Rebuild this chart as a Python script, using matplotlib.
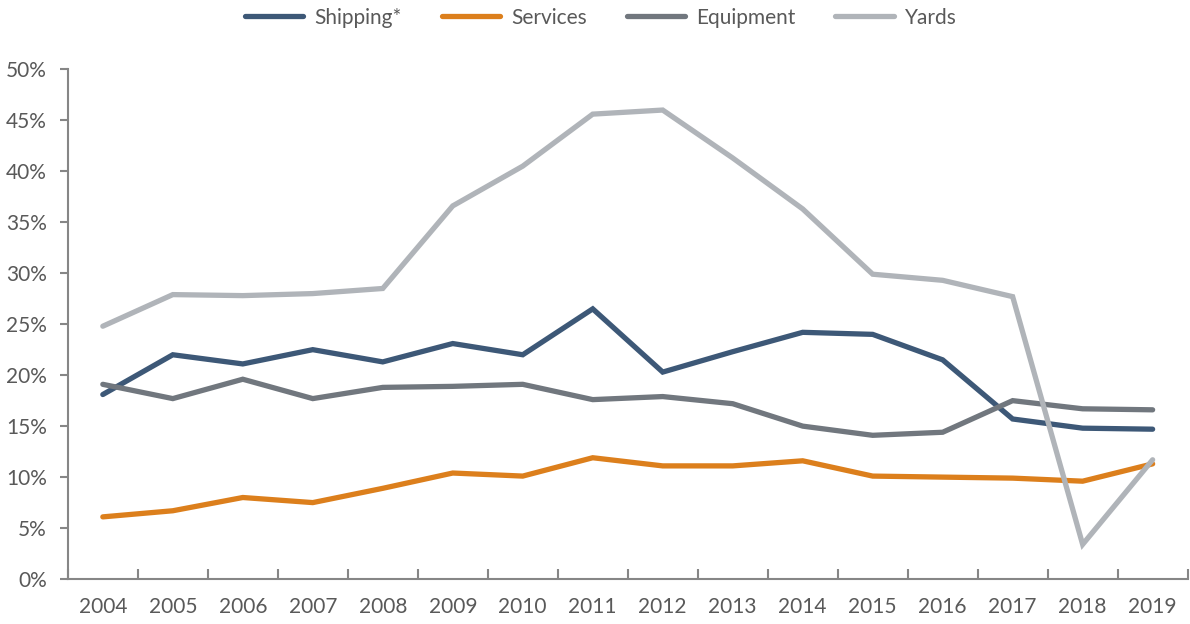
import numpy as np
import matplotlib.pyplot as plt
from matplotlib.ticker import FuncFormatter, FixedLocator

plt.rcParams['font.family'] = ['Lato', 'DejaVu Sans']

years = [str(y) for y in range(2004, 2020)]
shipping = [18.1, 22.0, 21.1, 22.5, 21.3, 23.1, 22.0, 26.5, 20.3, 22.3, 24.2, 24.0, 21.5, 15.7, 14.8, 14.7]
services = [6.1, 6.7, 8.0, 7.5, 8.9, 10.4, 10.1, 11.9, 11.1, 11.1, 11.6, 10.1, 10.0, 9.9, 9.6, 11.3]
equipment = [19.1, 17.7, 19.6, 17.7, 18.8, 18.9, 19.1, 17.6, 17.9, 17.2, 15.0, 14.1, 14.4, 17.5, 16.7, 16.6]
yards = [24.8, 27.9, 27.8, 28.0, 28.5, 36.6, 40.5, 45.6, 46.0, 41.3, 36.3, 29.9, 29.3, 27.7, 3.4, 11.7]

series = [
    ("Shipping*", shipping, "#3d5877"),
    ("Services", services, "#dc7f1c"),
    ("Equipment", equipment, "#71777e"),
    ("Yards", yards, "#b0b4b9"),
]

text_color = "#595959"
axis_color = "#868686"
fs = 15

fig = plt.figure(figsize=(11.9, 6.24), dpi=100)
ax = fig.add_axes([0.057, 0.072, 0.941, 0.817])

x = np.arange(len(years))
for name, vals, col in series:
    ax.plot(x, vals, color=col, linewidth=3.8, label=name,
            solid_capstyle="round", solid_joinstyle="miter")

ax.set_xlim(-0.5, len(years) - 0.5)
ax.set_ylim(0, 50)
ax.set_yticks(np.arange(0, 51, 5))
ax.yaxis.set_major_formatter(FuncFormatter(lambda v, p: f"{v:.0f}%"))

# category labels centred, tick marks between categories
ax.set_xticks(x)
ax.set_xticklabels(years)
ax.xaxis.set_minor_locator(FixedLocator(np.arange(-0.5, len(years), 1.0)))
ax.tick_params(axis="x", which="major", length=0, pad=13, labelsize=fs, labelcolor=text_color)
ax.tick_params(axis="x", which="minor", direction="in", length=7, width=1.5, color=axis_color)
ax.tick_params(axis="y", direction="out", length=6, width=1.5, color=axis_color,
               labelsize=fs, labelcolor=text_color, pad=9)

for s in ["top", "right"]:
    ax.spines[s].set_visible(False)
for s in ["left", "bottom"]:
    ax.spines[s].set_color(axis_color)
    ax.spines[s].set_linewidth(1.5)

leg = fig.legend(loc="upper center", bbox_to_anchor=(0.505, 1.018), ncol=4, frameon=False,
                 fontsize=fs, handlelength=2.8, columnspacing=1.9, handletextpad=0.55)
for t in leg.get_texts():
    t.set_color(text_color)

fig.savefig("out.png", dpi=100)
